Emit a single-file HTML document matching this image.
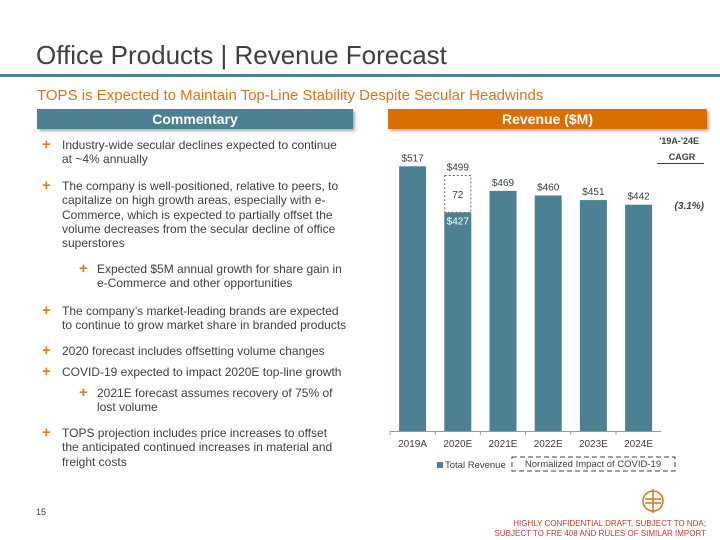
<!DOCTYPE html>
<html><head><meta charset="utf-8"><style>
body{margin:0;width:720px;height:540px;background:#fff;position:relative;overflow:hidden;font-family:"Liberation Sans",sans-serif;color:#404040}
.a{position:absolute}
.b{position:absolute;font-size:12px;line-height:14.3px;color:#404040;white-space:nowrap}
.p{position:absolute;color:#e07b22;font-size:15px;font-weight:bold;line-height:14px}
.hdr{position:absolute;height:20px;color:#fff;font-weight:bold;font-size:14px;text-align:center;line-height:20px;box-shadow:2px 2px 3px #aaa}
</style></head><body>
<div class="a" style="left:36px;top:40px;font-size:26px;color:#404040">Office Products | Revenue Forecast</div>
<div class="a" style="left:0;top:74px;width:720px;height:3px;background:#4a8092"></div>
<div class="a" style="left:37px;top:87px;font-size:15px;color:#d9731c">TOPS is Expected to Maintain Top-Line Stability Despite Secular Headwinds</div>
<div class="hdr" style="left:37px;top:109px;width:316px;background:#4b8192">Commentary</div>
<div class="hdr" style="left:388px;top:109px;width:319px;background:#d86f00">Revenue ($M)</div>

<div>
<span class="p" style="left:42px;top:138px">+</span><div class="b" style="left:62px;top:138px">Industry-wide secular declines expected to continue<br>at ~4% annually</div>
<span class="p" style="left:42px;top:179px">+</span><div class="b" style="left:62px;top:179px">The company is well-positioned, relative to peers, to<br>capitalize on high growth areas, especially with e-<br>Commerce, which is expected to partially offset the<br>volume decreases from the secular decline of office<br>superstores</div>
<span class="p" style="left:79px;top:262px">+</span><div class="b" style="left:97px;top:262px">Expected $5M annual growth for share gain in<br>e-Commerce and other opportunities</div>
<span class="p" style="left:42px;top:304px">+</span><div class="b" style="left:62px;top:304px">The company’s market-leading brands are expected<br>to continue to grow market share in branded products</div>
<span class="p" style="left:42px;top:344px">+</span><div class="b" style="left:62px;top:344px">2020 forecast includes offsetting volume changes</div>
<span class="p" style="left:42px;top:365px">+</span><div class="b" style="left:62px;top:365px">COVID-19 expected to impact 2020E top-line growth</div>
<span class="p" style="left:79px;top:386px">+</span><div class="b" style="left:97px;top:386px">2021E forecast assumes recovery of 75% of<br>lost volume</div>
<span class="p" style="left:42px;top:426px">+</span><div class="b" style="left:62px;top:426px">TOPS projection includes price increases to offset<br>the anticipated continued increases in material and<br>freight costs</div>
</div>

<svg class="a" style="left:0;top:0" width="720" height="540" id="chart" font-family="Liberation Sans, sans-serif"></svg>

<div class="a" style="left:36px;top:507px;font-size:9px;color:#404040">15</div>
<svg class="a" style="left:640px;top:488px" width="26" height="26"><circle cx="13" cy="13" r="10" fill="none" stroke="#d9731c" stroke-width="1.5"/><line x1="13" y1="1" x2="13" y2="25" stroke="#d9731c" stroke-width="1.5"/><line x1="5" y1="11" x2="21" y2="11" stroke="#d9731c" stroke-width="1.5"/><line x1="5" y1="15" x2="21" y2="15" stroke="#d9731c" stroke-width="1.5"/></svg>
<div class="a" style="right:14px;top:519px;font-size:8px;line-height:10px;color:#c0392b;text-align:right">HIGHLY CONFIDENTIAL DRAFT, SUBJECT TO NDA;<br>SUBJECT TO FRE 408 AND RULES OF SIMILAR IMPORT</div>

<script>
const categories=["2019A","2020E","2021E","2022E","2023E","2024E"];
const revenue=[517,427,469,460,451,442];
const covidImpact=[0,72,0,0,0,0];
const cagrLabel="(3.1%)";
const svg=document.getElementById('chart');
const NS='http://www.w3.org/2000/svg';
const x0=390,band=45.2,barW=27,base=431,k=264.7/517;
const xs=i=>x0+i*band+(band-barW)/2;
const ys=v=>base-v*k;
function mk(t,a,txt){const e=document.createElementNS(NS,t);for(const n in a)e.setAttribute(n,a[n]);if(txt!=null)e.textContent=txt;svg.appendChild(e);return e;}
const ax=mk('line',{x1:x0,y1:base+.5,x2:x0+band*6,y2:base+.5,stroke:'#999'});


categories.forEach((c,i)=>{
 const tk=mk('line',{x1:x0+i*band,y1:base,x2:x0+i*band,y2:base+4,stroke:'#999'});
 
 
 const lb=mk('text',{x:x0+i*band+band/2,y:base+16,'font-size':10,'text-anchor':'middle',fill:'#404040'},c);
 
 
 const v=revenue[i];
 const r=mk('rect',{x:xs(i),y:ys(v),width:barW,height:base-ys(v),fill:'#4b8192'});
 
 
 const cx=xs(i)+barW/2;
 if(covidImpact[i]>0){
  const top=v+covidImpact[i];
  const d=mk('rect',{x:xs(i)+.5,y:ys(top),width:barW-1,height:ys(v)-ys(top),fill:'#fff',stroke:'#666','stroke-dasharray':'2,2'});
  
  
  const t1=mk('text',{x:cx,y:(ys(top)+ys(v))/2+4,'font-size':10,'text-anchor':'middle',fill:'#404040'},covidImpact[i]);
  
  
  const t2=mk('text',{x:cx,y:ys(top)-5,'font-size':10,'text-anchor':'middle',fill:'#404040'},'$'+top);
  
  
  const t3=mk('text',{x:cx,y:ys(v)+12,'font-size':10,'text-anchor':'middle',fill:'#fff'},'$'+v);
  
  
 } else {
  const t=mk('text',{x:cx,y:ys(v)-5,'font-size':10,'text-anchor':'middle',fill:'#404040'},'$'+v);
  
  
 }
});
const h1=mk('text',{x:699,y:144,'font-size':9,'font-weight':'bold','text-anchor':'end',fill:'#404040'},"'19A-'24E");


const h2=mk('text',{x:682,y:160,'font-size':9,'font-weight':'bold','text-anchor':'middle',fill:'#404040'},"CAGR");


const hl=mk('line',{x1:657,y1:163.5,x2:704,y2:163.5,stroke:'#404040'});


const cv=mk('text',{x:704,y:209,'font-size':10,'font-weight':'bold','font-style':'italic','text-anchor':'end',fill:'#404040'},cagrLabel);


const ls=mk('rect',{x:437,y:462,width:6,height:6,fill:'#4b8192'});


const lt=mk('text',{x:445,y:468,'font-size':9.5,fill:'#404040'},'Total Revenue');


const lb2=mk('rect',{x:512,y:457,width:163,height:14,fill:'none',stroke:'#404040','stroke-dasharray':'5,3'});


const lt2=mk('text',{x:593,y:467,'font-size':9.5,'text-anchor':'middle',fill:'#404040'},'Normalized Impact of COVID-19');


</script>
</body></html>
